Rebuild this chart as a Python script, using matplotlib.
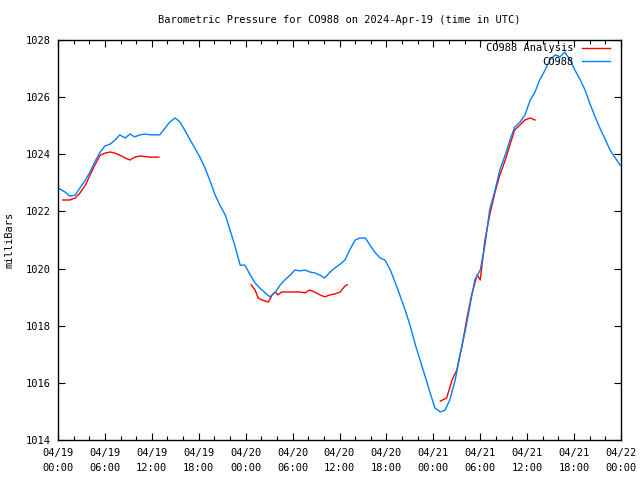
import numpy as np
import matplotlib
matplotlib.use('Agg')
import matplotlib.pyplot as plt

# hours since 2024-04-19 00:00 UTC, pressure in mb
obs_hours = [0.0, 0.9, 1.5, 2.2, 2.8, 3.5, 4.1, 4.7, 5.4, 6.0, 6.7, 7.3, 7.9, 8.6, 9.2,
             9.8, 10.5, 11.1, 11.8, 12.4, 13.0, 13.7, 14.3, 15.0, 15.6, 16.2, 16.9,
             17.5, 18.2, 18.8, 19.4, 20.1, 20.7, 21.4, 22.0, 22.6, 23.3, 23.9, 24.6,
             25.2, 25.8, 26.5, 27.1, 27.8, 28.4, 29.0, 29.7, 30.3, 30.9, 31.6, 32.2,
             32.8, 33.5, 34.1, 34.8, 35.4, 36.1, 36.7, 37.3, 38.0, 38.6, 39.3, 39.9,
             40.5, 41.2, 41.8, 42.5, 43.1, 43.7, 44.4, 45.0, 45.7, 46.3, 46.9, 47.6,
             48.2, 48.9, 49.5, 50.1, 50.8, 51.4, 52.1, 52.7, 53.3, 54.0, 54.6, 55.2,
             55.9, 56.5, 57.2, 57.8, 58.4, 59.1, 59.7, 60.4, 61.0, 61.6, 62.3, 62.9,
             63.6, 64.2, 64.8, 65.5, 66.1, 66.8, 67.4, 68.0, 68.7, 69.3, 69.9, 70.6,
             71.2, 71.9]
obs_mb = [1022.82, 1022.68, 1022.54, 1022.57, 1022.82, 1023.10, 1023.38, 1023.73,
          1024.08, 1024.29, 1024.36, 1024.50, 1024.68, 1024.57, 1024.71, 1024.61,
          1024.68, 1024.71, 1024.68, 1024.68, 1024.68, 1024.92, 1025.13, 1025.27,
          1025.13, 1024.85, 1024.50, 1024.22, 1023.87, 1023.52, 1023.10, 1022.57,
          1022.22, 1021.87, 1021.35, 1020.82, 1020.12, 1020.12, 1019.77, 1019.50,
          1019.32, 1019.15, 1019.01, 1019.18, 1019.42, 1019.60, 1019.77, 1019.95,
          1019.92, 1019.95, 1019.88, 1019.85, 1019.77, 1019.67, 1019.88, 1020.02,
          1020.16, 1020.30, 1020.65, 1021.00, 1021.07, 1021.07, 1020.82, 1020.58,
          1020.37, 1020.30, 1019.95, 1019.53, 1019.08, 1018.55, 1018.03, 1017.33,
          1016.80, 1016.27, 1015.64, 1015.12, 1014.98, 1015.05, 1015.40, 1016.10,
          1016.98, 1017.85, 1018.73, 1019.60, 1019.95, 1020.82, 1022.05, 1022.75,
          1023.45, 1023.98, 1024.50, 1024.95, 1025.13, 1025.37, 1025.90, 1026.18,
          1026.60, 1026.95, 1027.30, 1027.48, 1027.41, 1027.58, 1027.30, 1026.95,
          1026.60, 1026.25, 1025.79, 1025.30, 1024.92, 1024.57, 1024.15, 1023.90,
          1023.62]

# analysis runs (three separate pieces)
ana1_hours = [0.6, 1.5, 2.2, 2.8, 3.5, 4.1, 4.7, 5.4, 6.0, 6.7, 7.3, 7.9, 8.6, 9.2,
              9.8, 10.5, 11.8, 12.9]
ana1_mb = [1022.40, 1022.40, 1022.47, 1022.64, 1022.92, 1023.27, 1023.62, 1023.97,
           1024.04, 1024.08, 1024.04, 1023.97, 1023.87, 1023.80, 1023.90, 1023.94,
           1023.90, 1023.90]
ana2_hours = [24.7, 25.2, 25.6, 26.1, 26.9, 27.4, 27.8, 28.1, 28.6, 29.7, 30.9, 31.6,
              32.2, 32.8, 33.5, 34.1, 34.8, 35.4, 36.1, 36.7, 37.0]
ana2_mb = [1019.43, 1019.25, 1018.97, 1018.90, 1018.83, 1019.08, 1019.18, 1019.08,
           1019.18, 1019.18, 1019.18, 1019.15, 1019.25, 1019.18, 1019.08, 1019.01,
           1019.08, 1019.11, 1019.18, 1019.39, 1019.43]
ana3_hours = [48.9, 49.7, 50.4, 51.0, 51.7, 52.3, 52.9, 53.6, 54.0, 54.6, 55.2, 55.9,
              56.5, 57.2, 57.8, 58.4, 59.1, 59.7, 60.4, 61.0]
ana3_mb = [1015.36, 1015.47, 1016.10, 1016.45, 1017.33, 1018.27, 1019.08, 1019.78,
           1019.60, 1021.00, 1021.87, 1022.68, 1023.27, 1023.80, 1024.33, 1024.85,
           1025.03, 1025.20, 1025.27, 1025.20]

tick_hours = np.arange(0, 73, 6)
tick_labels = ['04/19\n00:00', '04/19\n06:00', '04/19\n12:00', '04/19\n18:00',
               '04/20\n00:00', '04/20\n06:00', '04/20\n12:00', '04/20\n18:00',
               '04/21\n00:00', '04/21\n06:00', '04/21\n12:00', '04/21\n18:00',
               '04/22\n00:00']

plt.rcParams['font.family'] = 'DejaVu Sans Mono'
plt.rcParams['font.size'] = 7.5

fig = plt.figure(figsize=(6.4, 4.8), dpi=100)
ax = fig.add_axes([58/640, 40/480, 563/640, 400/480])

red = '#ff0000'
blue = '#0080ff'
ax.plot(ana1_hours, ana1_mb, color=red, lw=1, label='CO988 Analysis')
ax.plot(ana2_hours, ana2_mb, color=red, lw=1)
ax.plot(ana3_hours, ana3_mb, color=red, lw=1)
ax.plot(obs_hours, obs_mb, color=blue, lw=1, label='CO988')

ax.set_xlim(0, 72)
ax.set_ylim(1014, 1028)
ax.set_xticks(tick_hours)
ax.set_xticklabels(tick_labels, linespacing=1.6)
ax.set_xticks(np.arange(0, 73, 2), minor=True)
ax.set_yticks(np.arange(1014, 1029, 2))
ax.tick_params(which='both', direction='in', top=True, right=True, color='black')
ax.tick_params(which='major', length=5, width=0.8)
ax.tick_params(axis='x', which='major', pad=6)
ax.tick_params(axis='y', which='major', pad=5)
ax.tick_params(which='minor', length=3, width=0.8)
for s in ax.spines.values():
    s.set_linewidth(1)

ax.set_ylabel('milliBars', labelpad=8)
ax.set_title('Barometric Pressure for CO988 on 2024-Apr-19 (time in UTC)',
             fontsize=7.5, pad=12)

ax.legend(loc='upper right', bbox_to_anchor=(0.9876, 1.0025), frameon=False,
          markerfirst=False, handlelength=2.7, borderaxespad=0, borderpad=0.4,
          labelspacing=0.35, handletextpad=0.77)

fig.savefig('out.png', dpi=100)
